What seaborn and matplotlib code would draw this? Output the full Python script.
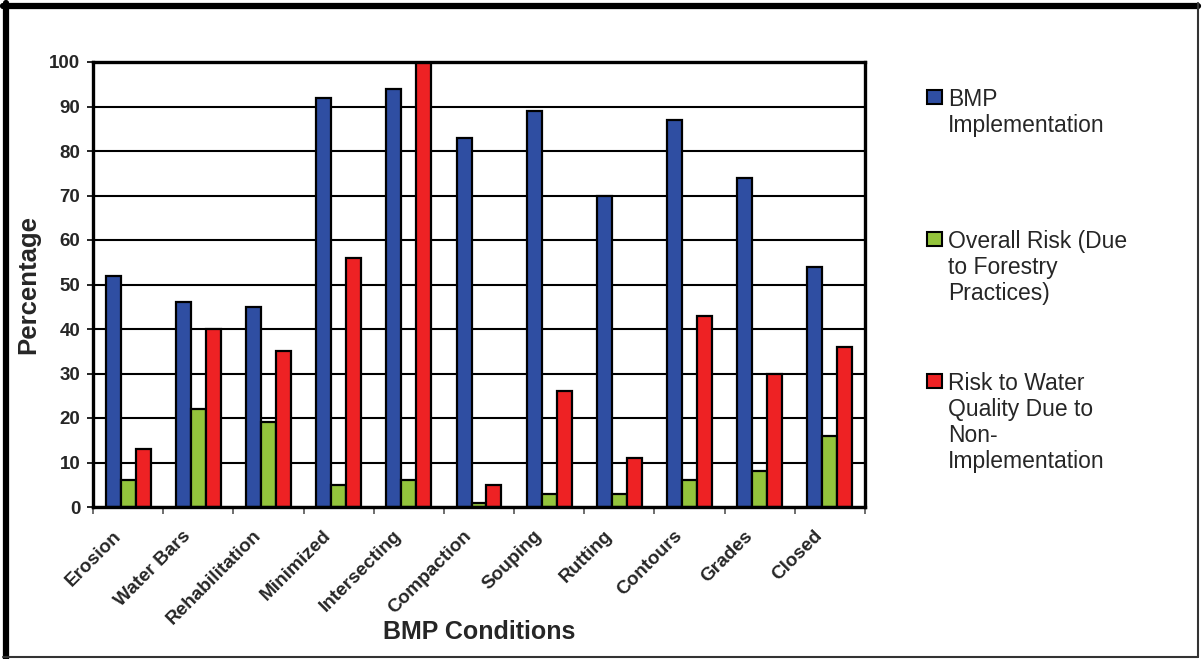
import numpy as np
import pandas as pd
import matplotlib
matplotlib.use("Agg")
import matplotlib.pyplot as plt
import matplotlib.transforms as mtransforms
import seaborn as sns
from matplotlib.lines import Line2D
from matplotlib.patches import Rectangle

conditions = ["Erosion", "Water Bars", "Rehabilitation", "Minimized", "Intersecting",
              "Compaction", "Souping", "Rutting", "Contours", "Grades", "Closed"]
bmp_implementation = [52, 46, 45, 92, 94, 83, 89, 70, 87, 74, 54]
overall_risk = [6, 22, 19, 5, 6, 1, 3, 3, 6, 8, 16]
water_quality_risk = [13, 40, 35, 56, 100, 5, 26, 11, 43, 30, 36]
series_labels = ["BMP\nImplementation",
                 "Overall Risk (Due\nto Forestry\nPractices)",
                 "Risk to Water\nQuality Due to\nNon-\nImplementation"]
colors = ["#2F4EA2", "#94C43C", "#EE2224"]

df = pd.DataFrame({
    "condition": conditions * 3,
    "value": bmp_implementation + overall_risk + water_quality_risk,
    "series": [s for s in series_labels for _ in conditions],
})

sns.set_style("white")
plt.rcParams["font.family"] = ["Liberation Sans", "DejaVu Sans"]

fig = plt.figure(figsize=(12.02, 6.59), dpi=100)
W, H = 1202, 659
ax = fig.add_axes([93 / W, 1 - 507 / H, (865 - 93) / W, (507 - 62) / H])

sns.barplot(data=df, x="condition", y="value", hue="series", palette=colors,
            saturation=1, width=0.64, gap=0, edgecolor="black", linewidth=1.6,
            legend=False, ax=ax)

ax.set_ylim(0, 100)
ax.set_xlim(-0.5, len(conditions) - 0.5)
ax.set_yticks(np.arange(0, 101, 10))
ax.yaxis.grid(True, color="black", linewidth=1.5)
ax.set_axisbelow(True)
for s in ax.spines.values():
    s.set_visible(True)
    s.set_color("black")
    s.set_linewidth(2.4)

ax.tick_params(axis="y", left=True, length=4, width=1.2, color="black", pad=5,
               labelsize=13.5)
for t in ax.get_yticklabels():
    t.set_fontweight("bold")

ax.set_xticks(np.arange(len(conditions)))
ax.set_xticks(np.arange(-0.5, len(conditions), 1.0), minor=True)
ax.tick_params(axis="x", which="major", length=0, pad=6)
ax.tick_params(axis="x", which="minor", bottom=True, length=5, width=1.2, color="#555555")
ax.set_xticklabels(conditions, rotation=45, ha="right", rotation_mode="anchor",
                   fontsize=13.7, fontweight="bold")
shift = mtransforms.ScaledTranslation(-16 / 100, -12 / 100, fig.dpi_scale_trans)
for t in ax.get_xticklabels():
    t.set_transform(t.get_transform() + shift)

ax.set_xlabel("BMP Conditions", fontsize=18, fontweight="bold")
ax.xaxis.set_label_coords(0.5, -0.255)
ax.set_ylabel("Percentage", fontsize=18.5, fontweight="bold")
ax.yaxis.set_label_coords(-0.068, 0.5)

# legend drawn by hand so the swatch sits on the first line
swatch_tops = [90, 232, 374]
for lab, col, top in zip(series_labels, colors, swatch_tops):
    fig.add_artist(Rectangle((927 / W, 1 - (top + 14) / H), 15 / W, 14 / H,
                             facecolor=col, edgecolor="black", linewidth=1.5,
                             transform=fig.transFigure))
    fig.text(948 / W, 1 - (top - 2) / H, lab, fontsize=16.5, va="top", ha="left",
             linespacing=1.16)

# outer frame
fig.add_artist(Line2D([6 / W, 6 / W], [0, 1 - 3 / H], color="black", linewidth=4.5,
                      transform=fig.transFigure))
fig.add_artist(Line2D([3 / W, 1 - 4 / W], [1 - 6 / H, 1 - 6 / H], color="black",
                      linewidth=4.5, transform=fig.transFigure))
fig.add_artist(Line2D([1 - 4 / W, 1 - 4 / W], [2 / H, 1 - 3 / H], color="#333333",
                      linewidth=1.5, transform=fig.transFigure))
fig.add_artist(Line2D([3 / W, 1 - 4 / W], [2 / H, 2 / H], color="#333333",
                      linewidth=1.5, transform=fig.transFigure))

fig.savefig("out.png", dpi=100)
plt.close(fig)
